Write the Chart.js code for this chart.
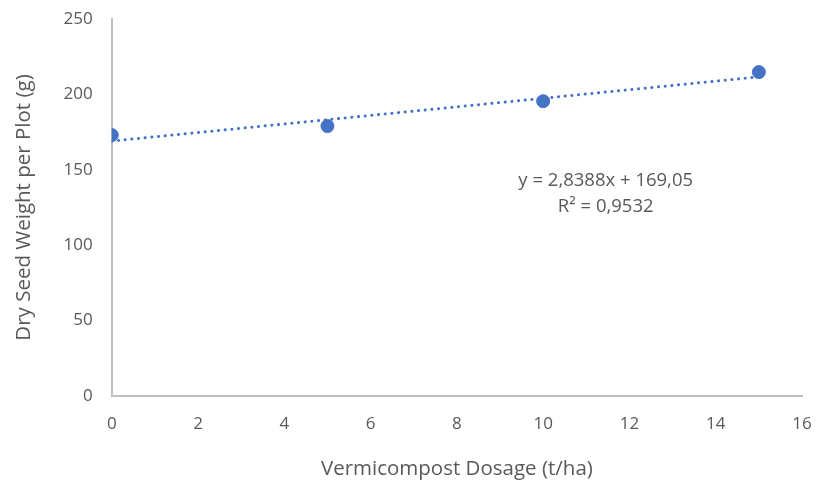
<!DOCTYPE html>
<html>
<head>
<meta charset="utf-8">
<script src="https://cdn.jsdelivr.net/npm/chart.js@4"></script>
<style>
  html, body { margin: 0; padding: 0; background: #fff; overflow: hidden; }
  canvas { display: block; }
</style>
</head>
<body>
<canvas class="seedChart" width="817" height="483"></canvas>
<script>
const dosage = [0, 5, 10, 15];
const seedWeight = [173, 179, 195.5, 214.8];
const trendX = [0, 15];
const trendY = [169.05, 211.63];
const xTicks = [0, 2, 4, 6, 8, 10, 12, 14, 16];
const yTicks = [0, 50, 100, 150, 200, 250];
const trendLabel = ['y = 2,8388x + 169,05', 'R² = 0,9532'];

const textGray = '#595959';
const axisGray = '#bfbfbf';
const blue = '#4472C4';
const fontName = "'Open Sans', sans-serif";

// draws the trendline equation at a spot given in data units
const equationLabel = {
    id: 'equationLabel',
    afterDatasetsDraw(chart) {
        const { ctx, scales } = chart;
        const x = scales.x.getPixelForValue(11.45);
        const y = scales.y.getPixelForValue(143);
        ctx.save();
        ctx.fillStyle = textGray;
        ctx.font = '18.5px ' + fontName;
        ctx.textAlign = 'center';
        ctx.textBaseline = 'middle';
        ctx.fillText(trendLabel[0], x, y);
        ctx.fillText(trendLabel[1], x, y + 26);
        ctx.restore();
    }
};

// keep edge labels from pushing the plot area in
function noEdgePadding(scale) {
    scale.paddingTop = 0;
    scale.paddingRight = 0;
    scale.paddingBottom = 0;
    scale.paddingLeft = 0;
}

const seedChartCanvas = document.querySelector('.seedChart');

new Chart(seedChartCanvas, {
    type: 'scatter',
    data: {
        datasets: [{
            label: 'Dry seed weight',
            data: dosage.map((d, i) => ({ x: d, y: seedWeight[i] })),
            backgroundColor: blue,
            borderColor: blue,
            pointRadius: 6.5,
            pointHoverRadius: 6.5,
            order: 1
        }, {
            label: 'Linear trend',
            type: 'line',
            data: trendX.map((d, i) => ({ x: d, y: trendY[i] })),
            borderColor: blue,
            borderWidth: 3,
            borderDash: [0.1, 6.6],
            borderCapStyle: 'round',
            pointRadius: 0,
            fill: false,
            order: 2
        }]
    },
    options: {
        responsive: false,
        animation: false,
        layout: { autoPadding: false, padding: { top: 19, right: 15, bottom: 2, left: 12 } },
        plugins: {
            legend: { display: false },
            tooltip: { enabled: false }
        },
        scales: {
            x: {
                type: 'linear',
                min: 0,
                max: 16,
                afterBuildTicks: axis => { axis.ticks = xTicks.map(v => ({ value: v })); },
                afterFit: noEdgePadding,
                grid: { display: false, drawTicks: false },
                border: { display: true, color: axisGray, width: 2 },
                ticks: { color: textGray, font: { family: fontName, size: 17 }, padding: 18 },
                title: {
                    display: true,
                    text: 'Vermicompost Dosage (t/ha)',
                    color: textGray,
                    font: { family: fontName, size: 20.5 },
                    padding: { top: 4, bottom: 0 }
                }
            },
            y: {
                min: 0,
                max: 250,
                afterBuildTicks: axis => { axis.ticks = yTicks.map(v => ({ value: v })); },
                afterFit: noEdgePadding,
                grid: { display: false, drawTicks: false },
                border: { display: true, color: axisGray, width: 2 },
                ticks: { color: textGray, font: { family: fontName, size: 17 }, padding: 19 },
                title: {
                    display: true,
                    text: 'Dry Seed Weight per Plot (g)',
                    color: textGray,
                    font: { family: fontName, size: 20.5 },
                    padding: { top: 0, bottom: 8 }
                }
            }
        }
    },
    plugins: [equationLabel]
});
</script>
</body>
</html>
